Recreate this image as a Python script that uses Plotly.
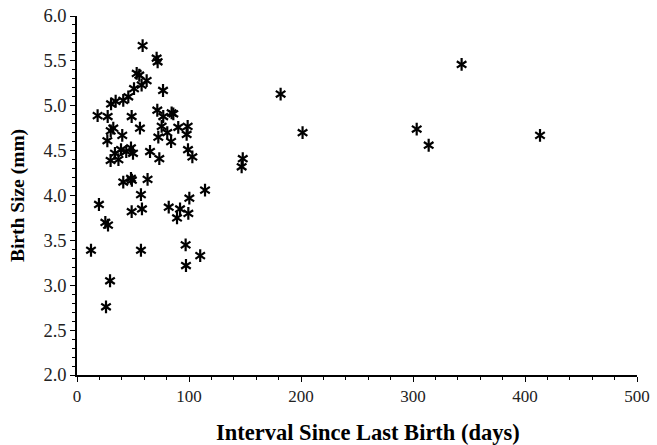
import plotly.graph_objects as go

# Interval since previous birth (days) and size at birth (mm)
interval_days = [
    12.5, 18.4, 19.6, 25.3, 27.7, 25.9, 29.5, 27.4, 27.1, 30.1,
    32.4, 30.4, 34.5, 30.0, 33.9, 37.0, 39.3, 40.4, 41.3, 41.3,
    45.8, 44.0, 48.2, 48.8, 50.9, 50.0, 48.2, 49.0, 48.8, 53.3,
    55.6, 57.7, 58.6, 62.2, 56.2, 57.1, 58.0, 57.1, 63.0, 65.2,
    71.1, 72.0, 71.7, 73.5, 72.6, 75.6, 76.8, 77.0, 80.6, 84.5,
    86.0, 84.0, 81.9, 90.4, 92.0, 89.3, 98.8, 97.9, 99.1, 103.0,
    100.3, 99.4, 97.0, 97.3, 110.0, 114.3, 148.0, 147.0, 181.8, 201.4,
    303.3, 314.0, 343.4, 413.4,
]
birth_size_mm = [
    3.39, 4.89, 3.90, 3.70, 3.67, 2.76, 3.05, 4.88, 4.61, 4.72,
    4.75, 5.02, 5.05, 4.39, 4.47, 4.40, 4.51, 4.67, 5.06, 4.15,
    5.10, 4.49, 4.53, 4.88, 5.19, 4.47, 4.19, 4.17, 3.82, 5.36,
    5.34, 5.23, 5.67, 5.28, 4.75, 4.01, 3.85, 3.39, 4.18, 4.49,
    5.53, 5.49, 4.95, 4.41, 4.65, 4.77, 5.17, 4.88, 4.70, 4.92,
    4.91, 4.60, 3.87, 4.76, 3.85, 3.75, 4.77, 4.68, 4.51, 4.43,
    3.97, 3.80, 3.45, 3.22, 3.33, 4.06, 4.41, 4.32, 5.13, 4.70,
    4.74, 4.56, 5.46, 4.67,
]

x_ticks = [0, 100, 200, 300, 400, 500]
y_ticks = [2.0, 2.5, 3.0, 3.5, 4.0, 4.5, 5.0, 5.5, 6.0]

x_title = "Interval Since Last Birth (days)"
y_title = "Birth Size (mm)"

serif = "Liberation Serif, Times New Roman, serif"

fig = go.Figure()
# six-armed asterisk built from two overlaid Y glyphs
for sym in ["y-up-open", "y-down-open"]:
    fig.add_trace(go.Scatter(
        x=interval_days, y=birth_size_mm, mode="markers",
        marker=dict(symbol=sym, size=8, color="black",
                    line=dict(color="black", width=2.2)),
        showlegend=False, hoverinfo="x+y",
    ))

axis_common = dict(
    showgrid=False, zeroline=False, showline=True, linecolor="black",
    linewidth=1.5, ticks="outside", ticklen=5, tickcolor="black",
    tickwidth=1.2, automargin=False,
)

fig.update_layout(
    width=657, height=445,
    margin=dict(l=77, r=20, t=16, b=70),
    plot_bgcolor="white", paper_bgcolor="white",
    xaxis=dict(
        range=[0, 500], tickvals=x_ticks,
        ticktext=[str(v) for v in x_ticks],
        tickfont=dict(family=serif, size=17, color="#222"),
        minor=dict(dtick=20, ticks="outside", ticklen=3,
                   tickcolor="black", tickwidth=1),
        **axis_common,
    ),
    yaxis=dict(
        range=[2.0, 6.0], tickvals=y_ticks,
        ticktext=[f"{v:.1f}" for v in y_ticks],
        tickfont=dict(family=serif, size=18.5, color="#222"),
        minor=dict(dtick=0.1, ticks="outside", ticklen=3,
                   tickcolor="black", tickwidth=1),
        title=dict(text=f"<b>{y_title}</b>",
                   font=dict(family=serif, size=19.5, color="black"),
                   standoff=14),
        **axis_common,
    ),
    annotations=[dict(
        text=f"<b>{x_title}</b>", xref="paper", yref="paper",
        x=0.52, y=0, xanchor="center", yanchor="middle", yshift=-57,
        showarrow=False, font=dict(family=serif, size=22.5, color="black"),
    )],
)

fig.write_html("out.html")
